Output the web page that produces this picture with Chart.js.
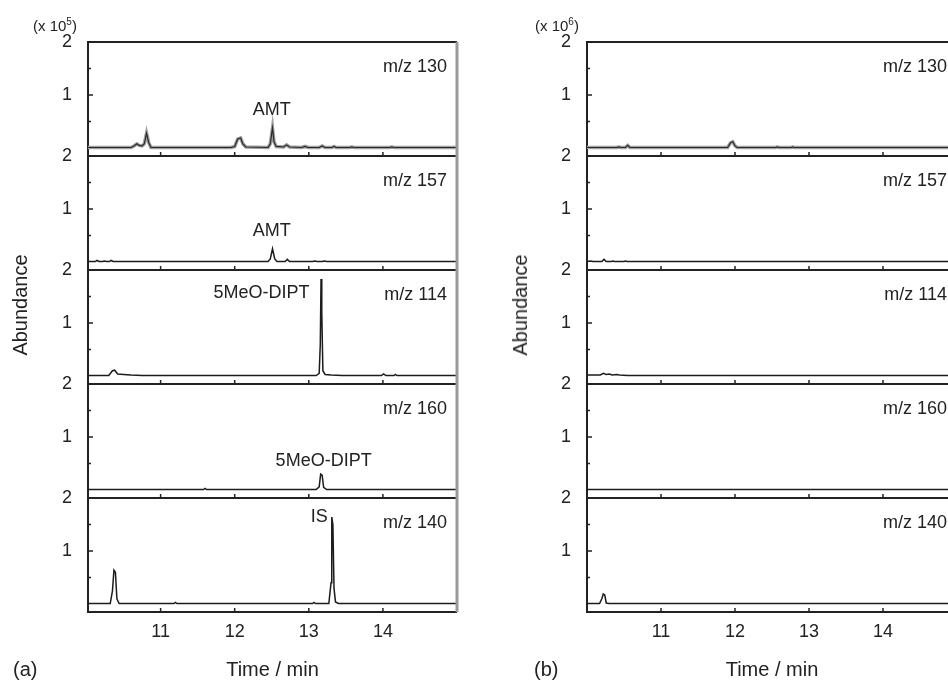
<!DOCTYPE html>
<html>
<head>
<meta charset="utf-8">
<script src="https://cdn.jsdelivr.net/npm/chart.js@4.4.1/dist/chart.umd.min.js"></script>
<style>
  body { margin: 0; width: 948px; height: 683px; overflow: hidden; background: #fff;
         font-family: "Liberation Sans", Arial, sans-serif; color: #222; position: relative; }
  canvas { position: absolute; top: 0; }
  .lbl { position: absolute; white-space: nowrap; line-height: 1; }
  .mult { font-size: 15px; top: 18px; }
  .mult sup { font-size: 10px; line-height: 0; }
  .ytitle { font-size: 20px; top: 305px; transform: translate(-50%, -50%) rotate(-90deg); }
  .panel { font-size: 20px; top: 659px; }
</style>
</head>
<body>
<canvas id="chartA" width="474" height="683" style="left:0"></canvas>
<canvas id="chartB" width="500" height="683" style="left:474px"></canvas>
<div class="lbl mult" style="left:33px">(x 10<sup>5</sup>)</div>
<div class="lbl mult" style="left:535px">(x 10<sup>6</sup>)</div>
<div class="lbl ytitle" style="left:20px">Abundance</div>
<div class="lbl ytitle" style="left:520px">Abundance</div>
<div class="lbl panel" style="left:13px">(a)</div>
<div class="lbl panel" style="left:534px">(b)</div>
<script>
// ions monitored, top to bottom
const ionLabels = ['m/z 130', 'm/z 157', 'm/z 114', 'm/z 160', 'm/z 140'];
const timeTicks = [11, 12, 13, 14];
const abundanceTicks = [1, 2];
const minorTicks = [0.5, 1.5];

// (a) traces, [time (min), abundance (x 10^5)]
const a130 = [[10.02,0.01],[10.60,0.01],[10.64,0.04],[10.68,0.08],[10.71,0.05],[10.75,0.04],[10.78,0.08],
  [10.81,0.28],[10.84,0.10],[10.87,0.01],[11.95,0.01],[12.00,0.03],[12.04,0.17],[12.08,0.19],[12.11,0.08],
  [12.15,0.02],[12.45,0.01],[12.48,0.08],[12.51,0.38],[12.53,0.12],[12.56,0.03],[12.66,0.02],[12.70,0.06],
  [12.74,0.02],[12.90,0.01],[12.95,0.03],[12.99,0.01],[13.14,0.01],[13.18,0.04],[13.22,0.01],[13.31,0.01],
  [13.34,0.03],[13.37,0.01],[13.55,0.01],[13.58,0.02],[13.61,0.01],[14.09,0.01],[14.12,0.02],[14.15,0.01],[15.0,0.01]];
const a157 = [[10.02,0.01],[10.12,0.01],[10.14,0.03],[10.17,0.01],[10.22,0.01],[10.24,0.02],[10.27,0.01],
  [10.31,0.01],[10.33,0.03],[10.36,0.01],[12.45,0.01],[12.48,0.06],[12.51,0.25],[12.54,0.06],[12.57,0.01],
  [12.68,0.01],[12.71,0.05],[12.74,0.01],[13.05,0.01],[13.08,0.02],[13.11,0.01],[13.18,0.01],[13.21,0.02],
  [13.24,0.01],[15.0,0.01]];
const a114 = [[10.02,0.01],[10.30,0.01],[10.35,0.10],[10.38,0.11],[10.42,0.04],[10.50,0.03],[10.60,0.02],
  [10.75,0.01],[13.10,0.01],[13.14,0.05],[13.155,0.60],[13.165,1.83],[13.175,1.20],[13.19,0.10],[13.22,0.03],
  [13.30,0.02],[13.45,0.01],[13.98,0.01],[14.01,0.04],[14.04,0.01],[14.15,0.01],[14.17,0.03],[14.19,0.01],[15.0,0.01]];
const a160 = [[10.02,0.01],[11.58,0.01],[11.60,0.03],[11.62,0.01],[13.10,0.01],[13.14,0.06],[13.16,0.30],
  [13.18,0.28],[13.20,0.05],[13.24,0.01],[15.0,0.01]];
const a140 = [[10.02,0.01],[10.32,0.01],[10.35,0.25],[10.37,0.64],[10.39,0.60],[10.41,0.10],[10.44,0.01],
  [11.18,0.01],[11.20,0.03],[11.22,0.01],[13.05,0.01],[13.07,0.03],[13.09,0.01],[13.27,0.01],[13.30,0.40],
  [13.31,1.64],[13.325,1.50],[13.34,0.30],[13.36,0.04],[13.40,0.01],[15.0,0.01]];

// (b) traces, [time (min), abundance (x 10^6)]
const b130 = [[10.0,0.01],[10.40,0.01],[10.43,0.02],[10.46,0.01],[10.52,0.01],[10.55,0.05],[10.58,0.01],
  [11.90,0.01],[11.94,0.10],[11.97,0.12],[12.00,0.04],[12.03,0.01],[12.55,0.01],[12.57,0.02],[12.60,0.01],
  [12.76,0.01],[12.78,0.02],[12.80,0.01],[15.0,0.01]];
const b157 = [[10.0,0.01],[10.05,0.02],[10.08,0.01],[10.20,0.01],[10.23,0.05],[10.26,0.01],[10.33,0.01],
  [10.35,0.02],[10.37,0.01],[10.50,0.01],[10.52,0.02],[10.54,0.01],[15.0,0.01]];
const b114 = [[10.0,0.02],[10.18,0.02],[10.22,0.05],[10.26,0.03],[10.30,0.04],[10.34,0.02],[10.40,0.03],
  [10.44,0.02],[10.55,0.01],[15.0,0.01]];
const b160 = [[10.0,0.01],[15.0,0.01]];
const b140 = [[10.0,0.01],[10.17,0.01],[10.20,0.10],[10.22,0.19],[10.24,0.17],[10.26,0.02],[10.30,0.01],[15.0,0.01]];

// peak labels: subpanel index, text, time, abundance
const notesA = [
  [0, 'AMT', 12.5, 0.72],
  [1, 'AMT', 12.5, 0.58],
  [2, '5MeO-DIPT', 12.36, 1.57],
  [3, '5MeO-DIPT', 13.2, 0.55],
  [4, 'IS', 13.14, 1.64]
];

const FONT = '"Liberation Sans", Arial, sans-serif';
Chart.defaults.font.family = FONT;
Chart.defaults.color = '#222';

// subpanel frames, inward ticks, ion names and peak labels
const framePlugin = {
  id: 'frame',
  afterDatasetsDraw(chart, args, o) {
    const { ctx, chartArea: ca, scales } = chart;
    const xs = scales.x;
    ctx.save();
    ctx.strokeStyle = '#222';
    ionLabels.forEach((ion, i) => {
      const s = scales['y' + i];
      ctx.lineWidth = 2;
      ctx.beginPath();
      ctx.moveTo(ca.left, s.top); ctx.lineTo(ca.right, s.top);
      if (i === ionLabels.length - 1) { ctx.moveTo(ca.left, s.bottom); ctx.lineTo(ca.right, s.bottom); }
      ctx.stroke();

      ctx.lineWidth = 1.5;
      ctx.beginPath();
      abundanceTicks.forEach(v => { const y = s.getPixelForValue(v); ctx.moveTo(ca.left, y); ctx.lineTo(ca.left + 5, y); });
      minorTicks.forEach(v => { const y = s.getPixelForValue(v); ctx.moveTo(ca.left, y); ctx.lineTo(ca.left + 3, y); });
      timeTicks.forEach(t => { const x = xs.getPixelForValue(t); ctx.moveTo(x, s.bottom); ctx.lineTo(x, s.bottom - 4); });
      ctx.stroke();

      ctx.fillStyle = '#222';
      ctx.font = '18px ' + FONT;
      ctx.textAlign = 'right';
      ctx.textBaseline = 'middle';
      ctx.fillText(ion, ca.right - 10, s.top + 25);
    });
    ctx.textAlign = 'center';
    (o.notes || []).forEach(([i, text, t, v]) => {
      ctx.fillText(text, xs.getPixelForValue(t), scales['y' + i].getPixelForValue(v));
    });
    if (o.rightBorder) {
      ctx.strokeStyle = '#9a9a9a';
      ctx.lineWidth = 3;
      ctx.beginPath();
      ctx.moveTo(ca.right, ca.top); ctx.lineTo(ca.right, ca.bottom);
      ctx.stroke();
    }
    ctx.restore();
  }
};

function buildPanel(canvasId, traces, xMin, axisWidth, notes, rightBorder) {
  const toPoints = pts => pts.map(p => ({ x: p[0], y: p[1] }));
  const datasets = traces.map((pts, i) => ({
    data: toPoints(pts),
    yAxisID: 'y' + i,
    borderColor: i === 0 ? '#a0a0a0' : '#1c1c1c',
    borderWidth: i === 0 ? 3.5 : 1.5,
    pointRadius: 0,
    tension: 0,
    fill: false,
    order: 1
  }));
  // m/z 130 is drawn as a grey band with the dark trace over it
  datasets.push({
    data: toPoints(traces[0]),
    yAxisID: 'y0',
    borderColor: '#2a2a2a',
    borderWidth: 1.2,
    pointRadius: 0,
    tension: 0,
    fill: false,
    order: 0
  });

  const scales = {
    x: {
      type: 'linear', position: 'bottom', min: xMin, max: 15,
      afterBuildTicks: s => { s.ticks = timeTicks.map(v => ({ value: v })); },
      afterFit: s => { s.height = 71; },
      grid: { display: false, drawTicks: false },
      border: { display: false },
      ticks: { font: { size: 18 }, color: '#222', padding: 9 },
      title: { display: true, text: 'Time / min', font: { size: 20 }, color: '#222', padding: { top: 0, bottom: 1 } }
    }
  };
  ionLabels.forEach((ion, i) => {
    scales['y' + i] = {
      type: 'linear', position: 'left', stack: 'ions', stackWeight: 1,
      weight: ionLabels.length - i, offset: false,
      min: -0.15, max: 2,
      afterBuildTicks: s => { s.ticks = abundanceTicks.map(v => ({ value: v })); },
      afterFit: s => { s.width = axisWidth; },
      grid: { display: false, drawTicks: false },
      border: { display: true, color: '#222', width: 2 },
      ticks: { font: { size: 18 }, color: '#222', padding: 16 }
    };
  });

  return new Chart(document.getElementById(canvasId), {
    type: 'line',
    data: { datasets },
    options: {
      responsive: false,
      animation: false,
      devicePixelRatio: 1,
      layout: { padding: { top: 42, right: 17, left: 0, bottom: 0 } },
      plugins: {
        legend: { display: false },
        tooltip: { enabled: false },
        frame: { notes, rightBorder }
      },
      scales
    },
    plugins: [framePlugin]
  });
}

buildPanel('chartA', [a130, a157, a114, a160, a140], 10.02, 88, notesA, true);
buildPanel('chartB', [b130, b157, b114, b160, b140], 10.0, 113, [], false);
</script>
</body>
</html>
